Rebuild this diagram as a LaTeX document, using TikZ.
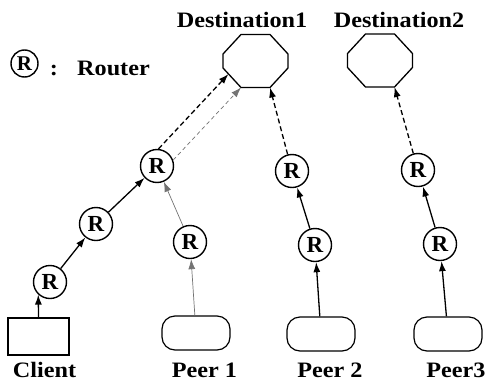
\documentclass[tikz,border=0pt]{standalone}
\usepackage{fontspec}
\setmainfont{Liberation Serif}[FakeStretch=1.1]
\newfontfamily\rfont{Liberation Serif}
\usetikzlibrary{arrows.meta,calc}
\begin{document}
\begin{tikzpicture}[x=1pt,y=-1pt,
 router/.style={circle,draw,line width=1.4pt,minimum size=33pt,inner sep=0pt,font=\rfont\bfseries\fontsize{23}{26}\selectfont},
 peer/.style={draw,line width=1.2pt,rounded corners=13pt,minimum width=68pt,minimum height=34pt,inner sep=0pt},
 clientbox/.style={draw,line width=1.2pt,minimum width=61pt,minimum height=37pt,inner sep=0pt},
 lbl/.style={anchor=base,inner sep=0pt,font=\bfseries\fontsize{22}{25}\selectfont},
 arr/.style={line width=1.3pt,-{Latex[length=10pt,width=7pt]}},
 garr/.style={line width=0.7pt,draw=black!55,-{Latex[length=10pt,width=7pt]}},
 darr/.style={arr,dash pattern=on 5pt off 3pt},
 gdarr/.style={garr,dash pattern=on 4pt off 3pt},
 oct/.style={line width=1.3pt,line join=miter}]
\useasboundingbox (0,0) rectangle (487,383);

% legend
\node[router,minimum size=27pt,font=\rfont\bfseries\fontsize{21}{24}\selectfont] (leg) at (24.5,63.5) {R};
\node[lbl] (colon) at (54,75) {:};
\node[lbl] (routerlbl) at (113.5,75) {Router};

% destinations
\coordinate (D1) at (255.5,61);
\coordinate (D2) at (380,60.5);
\foreach \d in {D1,D2}
  \draw[oct,shift={(\d)}] (-14.5,-26.5) -- (14.5,-26.5) -- (32.5,-7) -- (32.5,7)
     -- (14.5,26.5) -- (-14.5,26.5) -- (-32.5,7) -- (-32.5,-7) -- cycle;
\coordinate (d1br) at ($(D1)+(14.5,26.5)$);
\coordinate (d1bl) at ($(D1)+(-14.5,26.5)$);
\coordinate (d1e) at ($(D1)+(-27,13)$);
\coordinate (d2br) at ($(D2)+(14.5,26.5)$);
\node[lbl] (dest1lbl) at (242,27) {Destination1};
\node[lbl] (dest2lbl) at (399,27) {Destination2};

% routers
\node[router] (C1) at (50,282) {R};
\node[router] (C2) at (96,224) {R};
\node[router] (C3) at (157,166) {R};
\node[router] (P1) at (190,242) {R};
\node[router] (P2a) at (292,171) {R};
\node[router] (P2b) at (315,245) {R};
\node[router] (P3a) at (418,170) {R};
\node[router] (P3b) at (440,244) {R};

% hosts
\node[clientbox] (client) at (38.5,336.5) {};
\node[peer] (peer1) at (196,333) {};
\node[peer] (peer2) at (321,334) {};
\node[peer] (peer3) at (448,334) {};

\node[lbl] (clientlbl) at (44.5,377) {Client};
\node[lbl] (peer1lbl) at (204.5,377) {Peer 1};
\node[lbl] (peer2lbl) at (330,377) {Peer 2};
\node[lbl] (peer3lbl) at (456,377) {Peer3};

% connectors
\draw[arr] (client.north) -- (C1.227);
\draw[arr] (C1) -- (C2);
\draw[arr] (C2) -- (C3);
\draw[darr] (C3.85) -- (d1e);
\draw[gdarr] (C3.20) -- (d1bl);
\draw[garr] (P1) -- (C3);
\draw[garr] (peer1) -- (P1);
\draw[darr] (P2a) -- (d1br);
\draw[arr] (P2b) -- (P2a);
\draw[arr] (peer2) -- (P2b);
\draw[darr] (P3a) -- (d2br);
\draw[arr] (P3b) -- (P3a);
\draw[arr] (peer3) -- (P3b);
\end{tikzpicture}
\end{document}
